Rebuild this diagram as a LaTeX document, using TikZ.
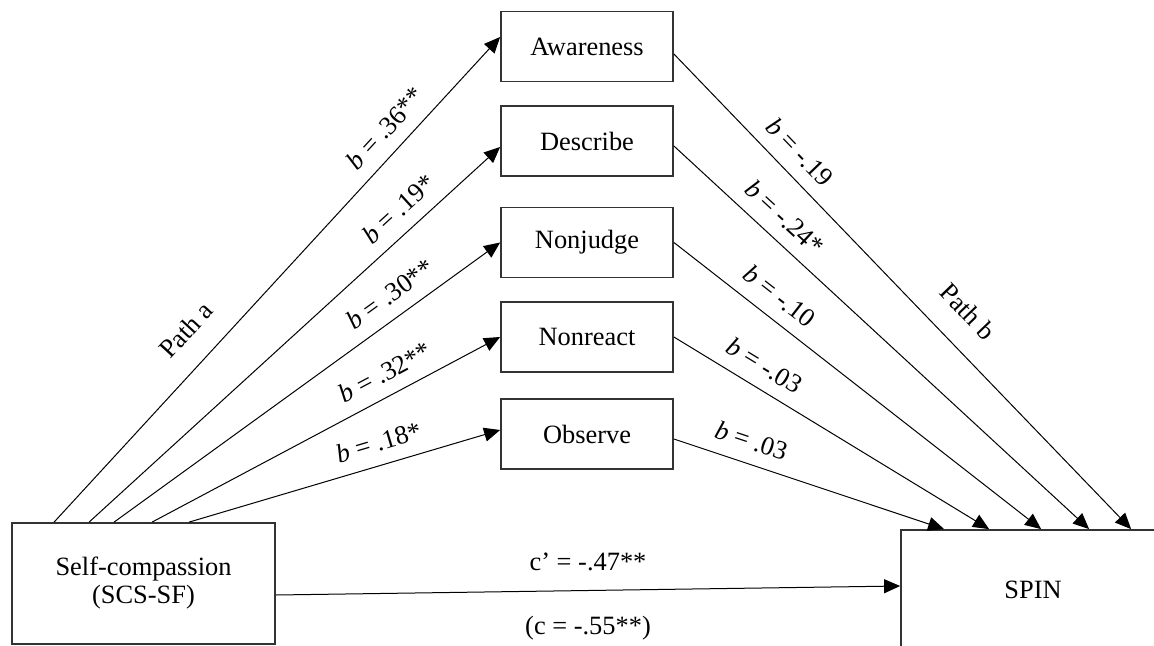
\documentclass[tikz,border=0pt]{standalone}
\usepackage{fontspec}
\setmainfont{Liberation Serif}
\usetikzlibrary{arrows.meta, calc}

\begin{document}
\begin{tikzpicture}[
  x=0.5pt, y=-0.5pt,
  font=\fontsize{13.2}{14}\selectfont,
  facet/.style={draw=black!80, line width=0.9pt, minimum width=86pt,
              minimum height=35pt, inner sep=0pt},
  bigbox/.style={draw=black!80, line width=0.9pt, minimum width=131.5pt,
              minimum height=60.5pt, inner sep=0pt, align=center},
  arr/.style={-{Triangle[length=8pt, width=7pt]}, line width=0.5pt},
  coef/.style={sloped, above=4.5pt, inner sep=2pt},
  pathlbl/.style={sloped, above=9.75pt, inner sep=2pt},
]
%% pixel grid of the figure, y runs downwards; SPIN runs off the page edge
\useasboundingbox (0,0) rectangle (1154,646);
\clip (0,0) rectangle (1154,646);

%% ---- the five facets, middle column ----
\node[facet] (aware)    at (587,46.5) {Awareness};
\node[facet] (describe) at (587,141)  {Describe};
\node[facet] (nonjudge) at (587,242.5) {Nonjudge};
\node[facet] (nonreact) at (587,337)  {Nonreact};
\node[facet] (observe)  at (587,434)  {Observe};

%% ---- predictor and outcome ----
\node[bigbox] (selfc) at (143.5,583.5) {Self-compassion\\(SCS-SF)};
\node[bigbox, minimum width=132pt, minimum height=60pt] (spin) at (1033,590) {SPIN};

%% ---- path a ----
\draw[arr] ($(selfc.north west)+(43,0)$)
  -- node[coef, pos=0.78] {\textit{b} = .36**}
     node[pathlbl, pos=0.35] {Path a} ($(aware.west)+(0,-9.5)$);
\draw[arr] ($(selfc.north west)+(78,0)$)
  -- node[coef, pos=0.79] {\textit{b} = .19*} ($(describe.west)+(0,6)$);
\draw[arr] ($(selfc.north west)+(103,0)$)
  -- node[coef, pos=0.75] {\textit{b} = .30**} (nonjudge.west);
\draw[arr] ($(selfc.north west)+(141,0)$)
  -- node[coef, pos=0.70] {\textit{b} = .32**} (nonreact.west);
\draw[arr] ($(selfc.north west)+(178,0)$)
  -- node[coef, pos=0.63] {\textit{b} = .18*} ($(observe.west)+(0,-4)$);

%% ---- path b ----
\draw[arr] ($(aware.east)+(0,7.5)$)
  -- node[coef, pos=0.24] {\textit{b} = -.19}
     node[pathlbl, pos=0.59] {Path b} ($(spin.north west)+(231,0)$);
\draw[arr] ($(describe.east)+(0,5)$)
  -- node[coef, pos=0.23] {\textit{b} = -.24*} ($(spin.north west)+(189,0)$);
\draw[arr] (nonjudge.east)
  -- node[coef, pos=0.25] {\textit{b} = -.10} ($(spin.north west)+(141,0)$);
\draw[arr] (nonreact.east)
  -- node[coef, pos=0.25] {\textit{b} = -.03} ($(spin.north west)+(89,0)$);
\draw[arr] ($(observe.east)+(0,5)$)
  -- node[coef, pos=0.26] {\textit{b} = .03} ($(spin.north west)+(44,0)$);

%% ---- direct path c' ----
\draw[arr] ($(selfc.east)+(0,11.5)$)
  -- node[above=7.75pt, inner sep=2pt, pos=0.5] {c' = -.47**}
     node[below=10.5pt, inner sep=2pt, pos=0.5] {(c = -.55**)}
  ($(spin.west)+(0,-4)$);
\end{tikzpicture}
\end{document}
